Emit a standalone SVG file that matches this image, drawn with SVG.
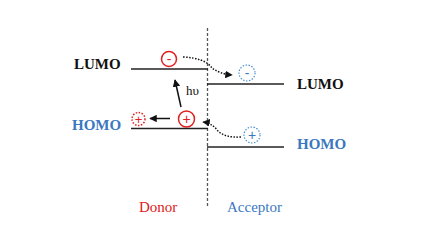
<svg xmlns="http://www.w3.org/2000/svg" width="432" height="249" viewBox="0 0 432 249">
<style>
.lvl{stroke:#222;stroke-width:1.5;fill:none}
.lbl{font-family:"Liberation Serif",serif;font-weight:bold;font-size:15px}
.side{font-family:"Liberation Serif",serif;font-size:15px}
.red{fill:#e02020}
.blue{fill:#3a78c0}
.sg{font-family:"Liberation Sans",sans-serif;font-size:14px}
.rc{fill:#fff;stroke:#e02020;stroke-width:1.5}
.rd{fill:#fff;stroke:#e02020;stroke-width:1.5;stroke-dasharray:1.5 1.5}
.bd{fill:#fff;stroke:#4a8fd0;stroke-width:1.2;stroke-dasharray:1.5 1.5}
.dot{fill:none;stroke:#111;stroke-width:1.5;stroke-dasharray:1.5 1.5}
</style>
<defs>
<marker id="ah" viewBox="0 0 10 10" refX="9" refY="5" markerWidth="5" markerHeight="5" orient="auto"><path d="M0,0L10,5L0,10z" fill="#111"/></marker>
</defs>
<rect width="432" height="249" fill="#fff"/>
<g id="interface"><line x1="207.5" y1="28" x2="207.5" y2="208" stroke="#555" stroke-width="1.3" stroke-dasharray="3 2"/></g>
<g id="donor-lumo"><line class="lvl" x1="131" y1="69" x2="208" y2="69"/><text class="lbl" x="74" y="69" fill="#111">LUMO</text></g>
<g id="donor-homo"><line class="lvl" x1="131" y1="128.5" x2="208" y2="128.5"/><text class="lbl blue" x="72" y="130">HOMO</text></g>
<g id="acceptor-lumo"><line class="lvl" x1="207" y1="84" x2="284" y2="84"/><text class="lbl" x="297" y="89" fill="#111">LUMO</text></g>
<g id="acceptor-homo"><line class="lvl" x1="207" y1="147" x2="284" y2="147"/><text class="lbl blue" x="297" y="149">HOMO</text></g>
<g id="electron-donor"><circle class="rc" cx="169" cy="59" r="7.5"/><text x="169" y="63.5" text-anchor="middle" class="red sg">-</text></g>
<g id="hole-donor"><circle class="rc" cx="186.5" cy="119" r="8"/><text x="186.5" y="124" text-anchor="middle" class="red sg">+</text></g>
<g id="hole-donor-moved"><circle class="rd" cx="138.5" cy="119" r="6.5"/><text x="138.5" y="123.5" text-anchor="middle" class="red" style="font-family:'Liberation Sans',sans-serif;font-size:13px">+</text></g>
<g id="electron-acceptor"><circle class="bd" cx="247" cy="73" r="8"/><text x="247" y="77.5" text-anchor="middle" class="blue sg">-</text></g>
<g id="hole-acceptor"><circle class="bd" cx="252" cy="135" r="8"/><text x="252" y="140" text-anchor="middle" class="blue sg">+</text></g>
<text x="186" y="95" style="font-family:'Liberation Serif',serif;font-size:13px" fill="#111">hυ</text>
<g id="connectors">
<line x1="181" y1="107" x2="175" y2="80" stroke="#111" stroke-width="1.5" marker-end="url(#ah)"/>
<line x1="170" y1="118.5" x2="150" y2="118.5" stroke="#111" stroke-width="1.5" marker-end="url(#ah)"/>
<path class="dot" d="M183,57 Q205,58 212,68 Q220,74 232,75" marker-end="url(#ah)"/>
<path class="dot" d="M241,137 Q225,138 218,131 Q212,123 203,122" marker-end="url(#ah)"/>
</g>
<text class="side" x="139" y="212" fill="#e02020">Donor</text>
<text class="side" x="227" y="212" fill="#3a78c0">Acceptor</text>
</svg>
